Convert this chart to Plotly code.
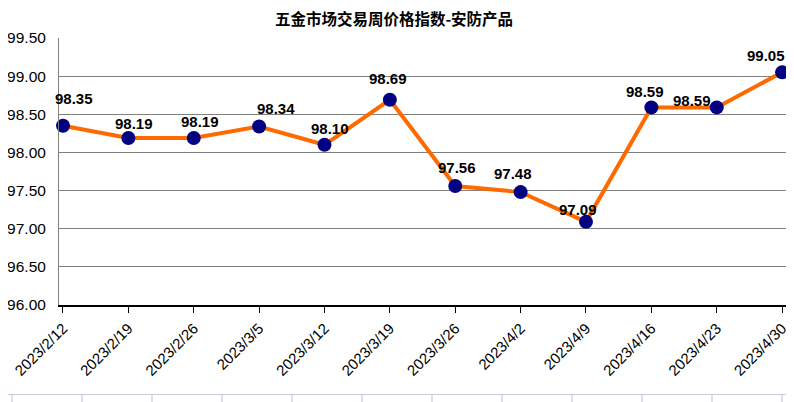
import plotly.graph_objects as go

dates = ["2023/2/12", "2023/2/19", "2023/2/26", "2023/3/5", "2023/3/12", "2023/3/19",
         "2023/3/26", "2023/4/2", "2023/4/9", "2023/4/16", "2023/4/23", "2023/4/30"]
values = [98.35, 98.19, 98.19, 98.34, 98.10, 98.69, 97.56, 97.48, 97.09, 98.59, 98.59, 99.05]
y_ticks = [96.0, 96.5, 97.0, 97.5, 98.0, 98.5, 99.0, 99.5]

# data-label placement relative to each marker (pixels: right, up), as in the reference
label_dx = [11, 6, 6, 17, 6, -2, 2, -8, -8, -6, -25, -16]
label_dy = [27, 14, 16, 18, 16, 21, 18, 19, 12, 16, 7, 17]

idx = list(range(len(dates)))

# the page body has an 8px margin, so the figure is drawn 8px smaller and shifted
OFF = 8
W, H = 794 - OFF, 402 - OFF
# plot area in reference pixels, converted to figure pixels
L, R, T, B = 59 - OFF, 788 - OFF, 38 - OFF, 305 - OFF

fig = go.Figure()
fig.add_trace(go.Scatter(
    x=idx, y=values,
    mode="lines+markers",
    line=dict(color="#FF6A00", width=4),
    marker=dict(color="#000080", size=14),
    cliponaxis=False,
    showlegend=False,
))

for xi, v, dx, dy in zip(idx, values, label_dx, label_dy):
    fig.add_annotation(
        x=xi, y=v, xref="x", yref="y",
        text=f"<b>{v:.2f}</b>", showarrow=False,
        xanchor="center", yanchor="middle",
        xshift=dx, yshift=dy,
        font=dict(family="Arial, Liberation Sans", size=15, color="black"),
    )

fig.update_layout(
    width=W, height=H,
    margin=dict(l=L, r=W - R, t=T, b=H - B, autoexpand=False),
    plot_bgcolor="white", paper_bgcolor="white",
    title=dict(text="<b>五金市场交易周价格指数-安防产品</b>",
               x=(394 - OFF) / W, xanchor="center",
               y=1 - (19.5 - OFF) / H, yanchor="middle", automargin=False,
               font=dict(family="Noto Sans CJK SC", size=15.5, color="black")),
    xaxis=dict(
        range=[-0.061, 11.09],
        tickmode="array", tickvals=idx, ticktext=dates,
        tickangle=-45, automargin=False,
        tickfont=dict(family="Arial, Liberation Sans", size=15, color="black"),
        showgrid=False, showline=True, linecolor="black", linewidth=1.5,
        ticks="outside", ticklen=6, tickcolor="black", zeroline=False,
        ticklabelstandoff=1, ticklabeloverflow="allow",
    ),
    yaxis=dict(
        range=[96.0, 99.5], automargin=False,
        tickmode="array", tickvals=y_ticks, ticktext=[f"{v:.2f}" for v in y_ticks],
        tickfont=dict(family="Arial, Liberation Sans", size=15.5, color="black"),
        showgrid=True, gridcolor="#808080", gridwidth=1,
        showline=True, linecolor="#808080", linewidth=1, zeroline=False,
        ticks="", ticklabelstandoff=9,
    ),
)

def px_x(p):
    return (p - OFF - L) / (R - L)

def px_y(p):
    return (B - (p - OFF)) / (B - T)

# spreadsheet gridline remnants at the bottom and right edges (reference pixels)
fig.add_shape(type="line", xref="paper", yref="paper",
              x0=px_x(0), x1=px_x(802), y0=px_y(394.5), y1=px_y(394.5),
              line=dict(color="#C5CCDC", width=1.2))
for gx in range(12, 794, 70):
    fig.add_shape(type="line", xref="paper", yref="paper",
                  x0=px_x(gx), x1=px_x(gx), y0=px_y(395), y1=px_y(410),
                  line=dict(color="#C5CCDC", width=1.2))
for gy in range(14, 390, 19):
    fig.add_shape(type="line", xref="paper", yref="paper",
                  x0=px_x(790), x1=px_x(800), y0=px_y(gy), y1=px_y(gy),
                  line=dict(color="#C5CCDC", width=1.2))

fig.write_html("out.html")
